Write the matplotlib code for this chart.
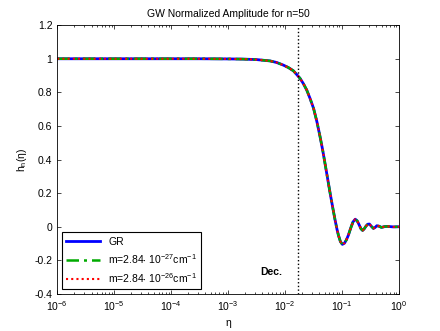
import matplotlib
matplotlib.use('Agg')
import matplotlib.pyplot as plt
from matplotlib.ticker import FormatStrFormatter, NullFormatter

plt.rcParams['font.family'] = ['Liberation Sans', 'DejaVu Sans']
plt.rcParams['mathtext.fontset'] = 'custom'
plt.rcParams['mathtext.rm'] = 'Liberation Sans'
plt.rcParams['mathtext.it'] = 'Liberation Sans'
plt.rcParams['axes.unicode_minus'] = False

# values
eta = [1e-6, 1e-5, 1e-4, 0.000316, 1e-3, 0.00178, 0.00316, 0.00546, 0.00708,
       0.00933, 0.0115, 0.0140, 0.0158, 0.0183, 0.0209, 0.0240, 0.0275, 0.0316,
       0.0363, 0.0411, 0.0457, 0.0501, 0.0556, 0.0617, 0.0684, 0.0753, 0.0813,
       0.0861, 0.0933, 0.101, 0.110, 0.119, 0.129, 0.141, 0.155, 0.170, 0.184,
       0.200, 0.214, 0.229, 0.245, 0.263, 0.282, 0.302, 0.327, 0.355, 0.380,
       0.407, 0.447, 0.490, 0.562, 0.631, 0.794, 1.0]
h_gr = [1.0, 1.0, 1.0, 1.0, 0.999, 0.998, 0.995, 0.987, 0.978,
        0.962, 0.947, 0.928, 0.908, 0.883, 0.852, 0.813, 0.762, 0.704,
        0.622, 0.535, 0.455, 0.377, 0.288, 0.199, 0.115, 0.04, -0.015,
        -0.05, -0.088, -0.105, -0.098, -0.078, -0.05, -0.01, 0.028, 0.045, 0.035,
        0.01, -0.012, -0.022, -0.012, 0.004, 0.015, 0.016, 0.002, -0.010, -0.004,
        0.006, 0.003, -0.004, 0.001, 0.002, -0.001, 0.0]
h_m27 = list(h_gr)
h_m26 = list(h_gr)
eta_dec = 0.0166
xticks = [1e-6, 1e-5, 1e-4, 1e-3, 1e-2, 1e-1, 1]
yticks = [-0.4, -0.2, 0, 0.2, 0.4, 0.6, 0.8, 1.0, 1.2]

fig = plt.figure(figsize=(4.4, 3.31), dpi=100)
ax = fig.add_axes([0.13, 0.112, 0.777, 0.812])

ax.plot(eta, h_gr, color='#0000ff', lw=2, label='GR')
ax.plot(eta, h_m27, color='#00aa00', lw=1.8, ls=(0, (5, 2, 1.2, 2)),
        label=r'm=2.84$\cdot$ 10$^{-27}$cm$^{-1}$')
ax.plot(eta, h_m26, color='#ff0000', lw=1.5, ls=(0, (1, 1.5)),
        label=r'm=2.84$\cdot$ 10$^{-26}$cm$^{-1}$')
ax.axvline(eta_dec, color='k', ls=':', lw=1)
ax.text(0.0037, -0.27, 'Dec.', fontsize=7.5, fontweight='bold', va='center', ha='left')

ax.set_xscale('log')
ax.set_xlim(1e-6, 1)
ax.set_ylim(-0.4, 1.2)
ax.set_xticks(xticks)
minor = [m * 10.0 ** e for e in range(-6, 0) for m in range(2, 10)]
ax.set_xticks(minor, minor=True)
ax.xaxis.set_minor_formatter(NullFormatter())
ax.set_yticks(yticks)
ax.yaxis.set_major_formatter(FormatStrFormatter('%g'))
ax.tick_params(which='both', direction='in', top=True, right=True, labelsize=7.5, width=0.5)
ax.tick_params(which='major', length=3)
ax.tick_params(which='minor', length=1.5)
for s in ax.spines.values():
    s.set_linewidth(0.6)

ax.set_title('GW Normalized Amplitude for n=50', fontsize=7.5)
ax.set_xlabel(r'$\eta$', fontsize=7.5)
ax.set_ylabel(r'h$_n$($\eta$)', fontsize=7.5)

leg = ax.legend(loc='lower left', bbox_to_anchor=(0.015, 0.019), borderaxespad=0,
                fontsize=7.5, fancybox=False, edgecolor='k', framealpha=1,
                handlelength=3.2, labelspacing=0.5)
leg.get_frame().set_linewidth(0.8)

fig.savefig('out.png', dpi=100)
